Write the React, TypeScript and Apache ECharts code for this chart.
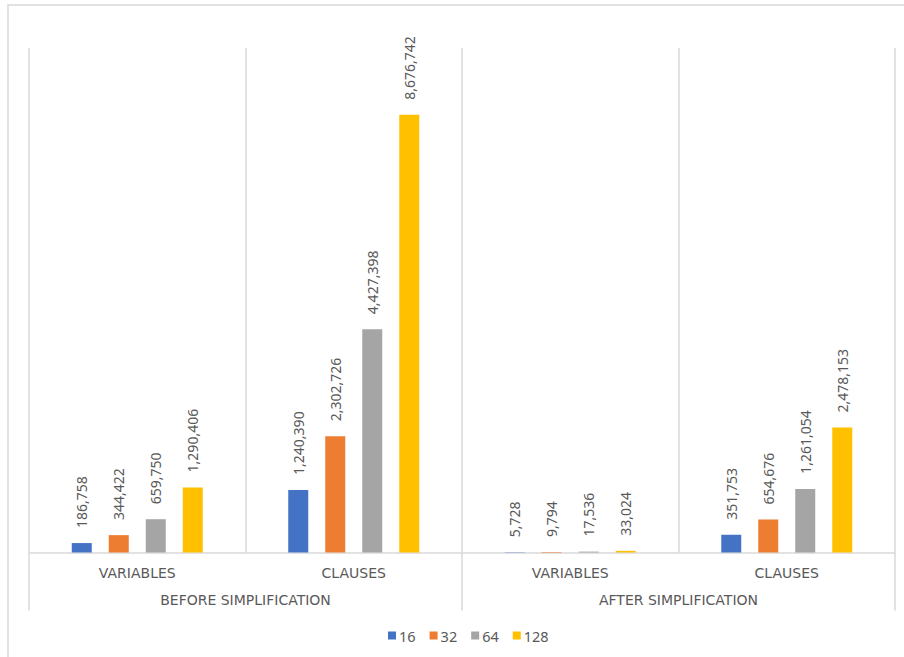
import React, { useEffect, useRef } from "react";
import * as echarts from "echarts";

const subCategories = ["VARIABLES", "CLAUSES", "VARIABLES", "CLAUSES"];
const groups = ["BEFORE SIMPLIFICATION", "AFTER SIMPLIFICATION"];
const seriesNames = ["16", "32", "64", "128"];
const values16 = [186758, 1240390, 5728, 351753];
const values32 = [344422, 2302726, 9794, 654676];
const values64 = [659750, 4427398, 17536, 1261054];
const values128 = [1290406, 8676742, 33024, 2478153];
const colors = ["#4472C4", "#ED7D31", "#A5A5A5", "#FFC000"];

const allValues = [values16, values32, values64, values128];

export default function App() {
  const ref = useRef<HTMLDivElement>(null);
  useEffect(() => {
    if (!ref.current) return;
    const chart = echarts.init(ref.current, null, { renderer: "svg" });
    const textColor = "#595959";
    const lineColor = "#d9d9d9";
    chart.setOption({
      animation: false,
      backgroundColor: "#ffffff",
      graphic: [
        {
          type: "rect",
          shape: { x: 8, y: 5, width: 1000, height: 1000 },
          style: { fill: "none", stroke: lineColor, lineWidth: 1.5 },
          silent: true,
        },
      ],
      legend: {
        data: seriesNames,
        left: 383,
        top: 623,
        itemWidth: 8,
        itemHeight: 8,
        itemGap: 14,
        icon: "rect",
        textStyle: { color: textColor, fontSize: 14.5, fontFamily: "Noto Sans", padding: [0, 0, 0, -2] },
      },
      grid: { left: 29, right: 9, top: 48, bottom: 104.5, containLabel: false },
      xAxis: [
        {
          type: "category",
          data: subCategories,
          position: "bottom",
          axisLine: { show: true, lineStyle: { color: lineColor, width: 1.5 } },
          axisTick: { show: false },
          splitLine: { show: true, lineStyle: { color: lineColor, width: 1.5 } },
          axisLabel: {
            color: textColor,
            fontSize: 14,
            fontFamily: "DejaVu Sans",
            margin: 13,
            interval: 0,
          },
        },
        {
          type: "category",
          data: groups,
          position: "bottom",
          axisLine: { show: false },
          axisTick: { show: true, length: 58, lineStyle: { color: lineColor, width: 1.5 } },
          splitLine: { show: false },
          axisLabel: {
            color: textColor,
            fontSize: 14,
            fontFamily: "DejaVu Sans",
            margin: 40,
            interval: 0,
          },
        },
      ],
      yAxis: {
        type: "value",
        min: 0,
        max: 10000000,
        show: false,
        splitLine: { show: false },
      },
      series: seriesNames.map((name, i) => ({
        name,
        type: "bar",
        xAxisIndex: 0,
        data: allValues[i],
        barWidth: 20,
        barGap: "85%",
        itemStyle: { color: colors[i] },
        label: {
          show: true,
          position: "top",
          rotate: 90,
          align: "left",
          verticalAlign: "middle",
          distance: 15,
          color: textColor,
          fontSize: 14,
          fontFamily: "Noto Sans",
          formatter: (p: any) => Number(p.value).toLocaleString("en-US"),
        },
      })),
    });
    return () => chart.dispose();
  }, []);
  return (
    <div
      ref={ref}
      style={{ position: "absolute", left: 0, top: 0, width: 904, height: 657 }}
    />
  );
}
